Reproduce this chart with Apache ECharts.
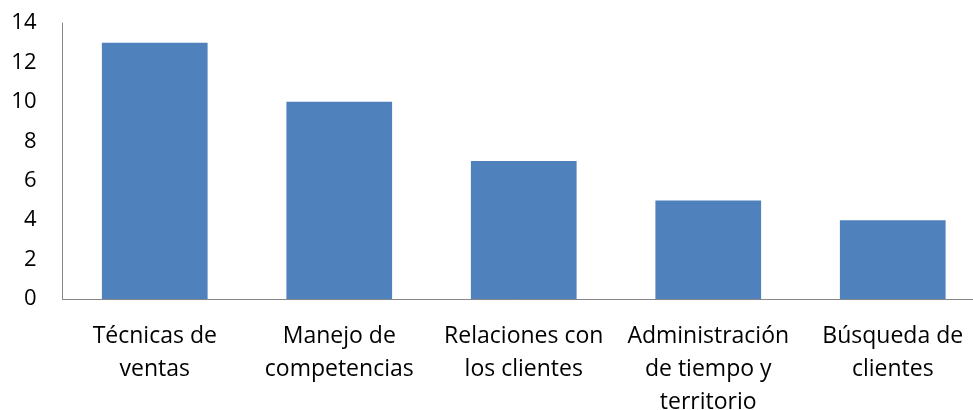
<!DOCTYPE html>
<html>
<head>
<meta charset="utf-8">
<script src="https://cdn.jsdelivr.net/npm/echarts@6/dist/echarts.min.js"></script>
<style>
  html, body { margin: 0; padding: 0; background: #fff; overflow: hidden; }
  #chart { width: 973px; height: 410px; }
</style>
</head>
<body>
<div id="chart"></div>
<script>
// Training topics and number of responses
const categories = [
  'Técnicas de\nventas',
  'Manejo de\ncompetencias',
  'Relaciones con\nlos clientes',
  'Administración\nde tiempo y\nterritorio',
  'Búsqueda de\nclientes'
];
const values = [13, 10, 7, 5, 4];
const yMin = 0;
const yMax = 14;
const yStep = 2;

const chart = echarts.init(document.getElementById('chart'), null, { renderer: 'canvas' });
const font = '"Open Sans", "Noto Sans", sans-serif';

chart.setOption({
  animation: false,
  grid: {
    left: 62.5, right: -12, top: 23, bottom: 111,
    containLabel: false,
    outerBoundsMode: 'none'
  },
  xAxis: {
    type: 'category',
    data: categories,
    axisLine: { lineStyle: { color: '#868686', width: 1 } },
    axisTick: { show: false },
    axisLabel: {
      interval: 0,
      color: '#000',
      fontFamily: font,
      fontSize: 23,
      lineHeight: 33,
      margin: 21
    }
  },
  yAxis: {
    type: 'value',
    min: yMin,
    max: yMax,
    interval: yStep,
    axisLine: { show: true, lineStyle: { color: '#868686', width: 1 } },
    axisTick: { show: false },
    splitLine: { show: false },
    axisLabel: {
      color: '#000',
      fontFamily: font,
      fontSize: 22,
      margin: 26
    }
  },
  series: [{
    type: 'bar',
    data: values,
    barWidth: '57.3%',
    itemStyle: { color: '#4F81BD' }
  }]
});
</script>
</body>
</html>
